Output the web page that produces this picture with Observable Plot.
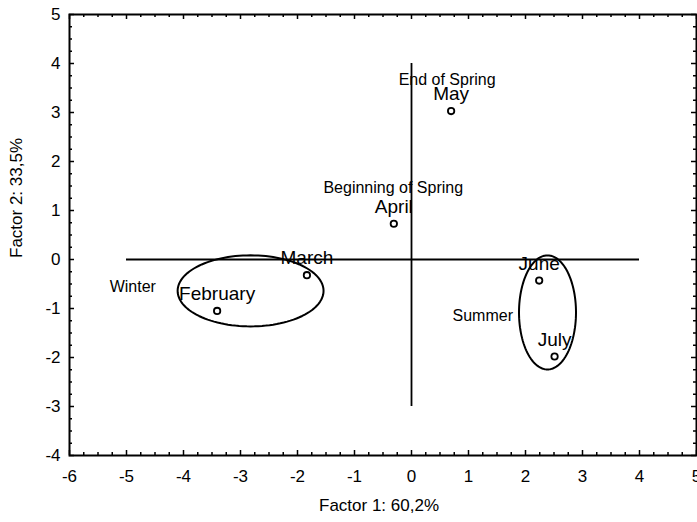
<!DOCTYPE html>
<html><head><meta charset="utf-8">
<script src="https://cdn.jsdelivr.net/npm/d3@7"></script>
<script src="https://cdn.jsdelivr.net/npm/@observablehq/plot@0.6"></script>
<style>
body{margin:0;background:#fff}
svg{font-family:"Liberation Sans",Arial,sans-serif}
</style>
</head><body><div id="chart"></div>
<script>
// Months (points)
const months = ["February", "March", "April", "May", "June", "July"];
const factor1 = [-3.41, -1.835, -0.31, 0.695, 2.24, 2.51];
const factor2 = [-1.05, -0.32, 0.73, 3.03, -0.43, -1.98];

// Group labels (baseline positions)
const groupNames = ["Winter", "Beginning of Spring", "End of Spring", "Summer"];
const groupX = [-4.89, -0.32, 0.625, 1.25];
const groupY = [-0.66, 1.35, 3.56, -1.26];

// Ellipses
const ellipseNames = ["Winter", "Summer"];
const ellipseCX = [-2.823, 2.386];
const ellipseCY = [-0.64, -1.08];
const ellipseRX = [1.28, 0.50];
const ellipseRY = [0.725, 1.164];

// Cross lines
const hLineX = [-5, 4];
const vLineY = [-3, 4];

// Ticks
const xTicks = [-6, -5, -4, -3, -2, -1, 0, 1, 2, 3, 4, 5];
const yTicks = [-4, -3, -2, -1, 0, 1, 2, 3, 4, 5];
const xTitle = "Factor 1: 60,2%";
const yTitle = "Factor 2: 33,5%";

const points = months.map((m, i) => ({name: m, x: factor1[i], y: factor2[i]}));
const groups = groupNames.map((g, i) => ({name: g, x: groupX[i], y: groupY[i]}));
const ellipses = ellipseNames.flatMap((n, i) =>
  d3.range(0, 361, 3).map(a => ({
    name: n,
    x: ellipseCX[i] + ellipseRX[i] * Math.cos(a * Math.PI / 180),
    y: ellipseCY[i] + ellipseRY[i] * Math.sin(a * Math.PI / 180)
  }))
);

const xMinor = d3.range(-6, 5.001, 0.25).filter(v => !Number.isInteger(v));
const yMinor = d3.range(-4, 5.001, 0.25).filter(v => !Number.isInteger(v));
const pxX = 57.06, pxY = 48.97;
const maj = 5, mnr = 3;

const chart = Plot.plot({
  width: 697,
  height: 522,
  marginLeft: 69,
  marginRight: 1,
  marginTop: 14,
  marginBottom: 67,
  x: {domain: [-6, 5], axis: null},
  y: {domain: [-4, 5], axis: null},
  style: {fontFamily: "'Liberation Sans', Arial, sans-serif", color: "black", background: "white"},
  marks: [
    // ticks bottom/top
    Plot.ruleX(xTicks, {x: d => d, y1: -4, y2: -4 + maj / pxY, stroke: "black", strokeWidth: 1.5}),
    Plot.ruleX(xMinor, {x: d => d, y1: -4, y2: -4 + mnr / pxY, stroke: "black", strokeWidth: 1.5}),
    Plot.ruleX(xTicks, {x: d => d, y1: 5, y2: 5 - maj / pxY, stroke: "black", strokeWidth: 1.5}),
    Plot.ruleX(xMinor, {x: d => d, y1: 5, y2: 5 - mnr / pxY, stroke: "black", strokeWidth: 1.5}),
    // ticks left/right
    Plot.ruleY(yTicks, {y: d => d, x1: -6, x2: -6 + maj / pxX, stroke: "black", strokeWidth: 1.5}),
    Plot.ruleY(yMinor, {y: d => d, x1: -6, x2: -6 + mnr / pxX, stroke: "black", strokeWidth: 1.5}),
    Plot.ruleY(yTicks, {y: d => d, x1: 5, x2: 5 - maj / pxX, stroke: "black", strokeWidth: 1.5}),
    Plot.ruleY(yMinor, {y: d => d, x1: 5, x2: 5 - mnr / pxX, stroke: "black", strokeWidth: 1.5}),
    Plot.frame({stroke: "black", strokeWidth: 2}),
    // tick labels
    Plot.text(xTicks, {x: d => d, y: -4, dy: 21, text: d => String(d), fontSize: 17, fill: "black"}),
    Plot.text(yTicks, {x: -6, y: d => d, dx: -9, text: d => String(d), textAnchor: "end", fontSize: 17, fill: "black"}),
    // axis titles
    Plot.text([xTitle], {frameAnchor: "bottom", dx: -4, dy: 55, text: d => d, fontSize: 17, fill: "black"}),
    Plot.text([yTitle], {frameAnchor: "left", dx: -53, dy: 23, rotate: -90, text: d => d, fontSize: 17, fill: "black"}),
    // cross lines
    Plot.ruleY([0], {x1: hLineX[0], x2: hLineX[1], stroke: "black", strokeWidth: 1.8}),
    Plot.ruleX([0], {y1: vLineY[0], y2: vLineY[1], stroke: "black", strokeWidth: 1.8}),
    // ellipses
    Plot.line(ellipses, {x: "x", y: "y", z: "name", stroke: "black", strokeWidth: 2, curve: "linear"}),
    // group labels
    Plot.text(groups, {x: "x", y: "y", text: "name", lineAnchor: "bottom", fontSize: 16, fill: "black"}),
    // month labels
    Plot.text(points, {x: "x", y: "y", text: "name", lineAnchor: "bottom", dy: -11, fontSize: 19, fill: "black"}),
    // points
    Plot.dot(points, {x: "x", y: "y", r: 3.2, stroke: "black", strokeWidth: 1.8, fill: "white"})
  ]
});
document.getElementById("chart").appendChild(chart);
</script>
</body></html>
